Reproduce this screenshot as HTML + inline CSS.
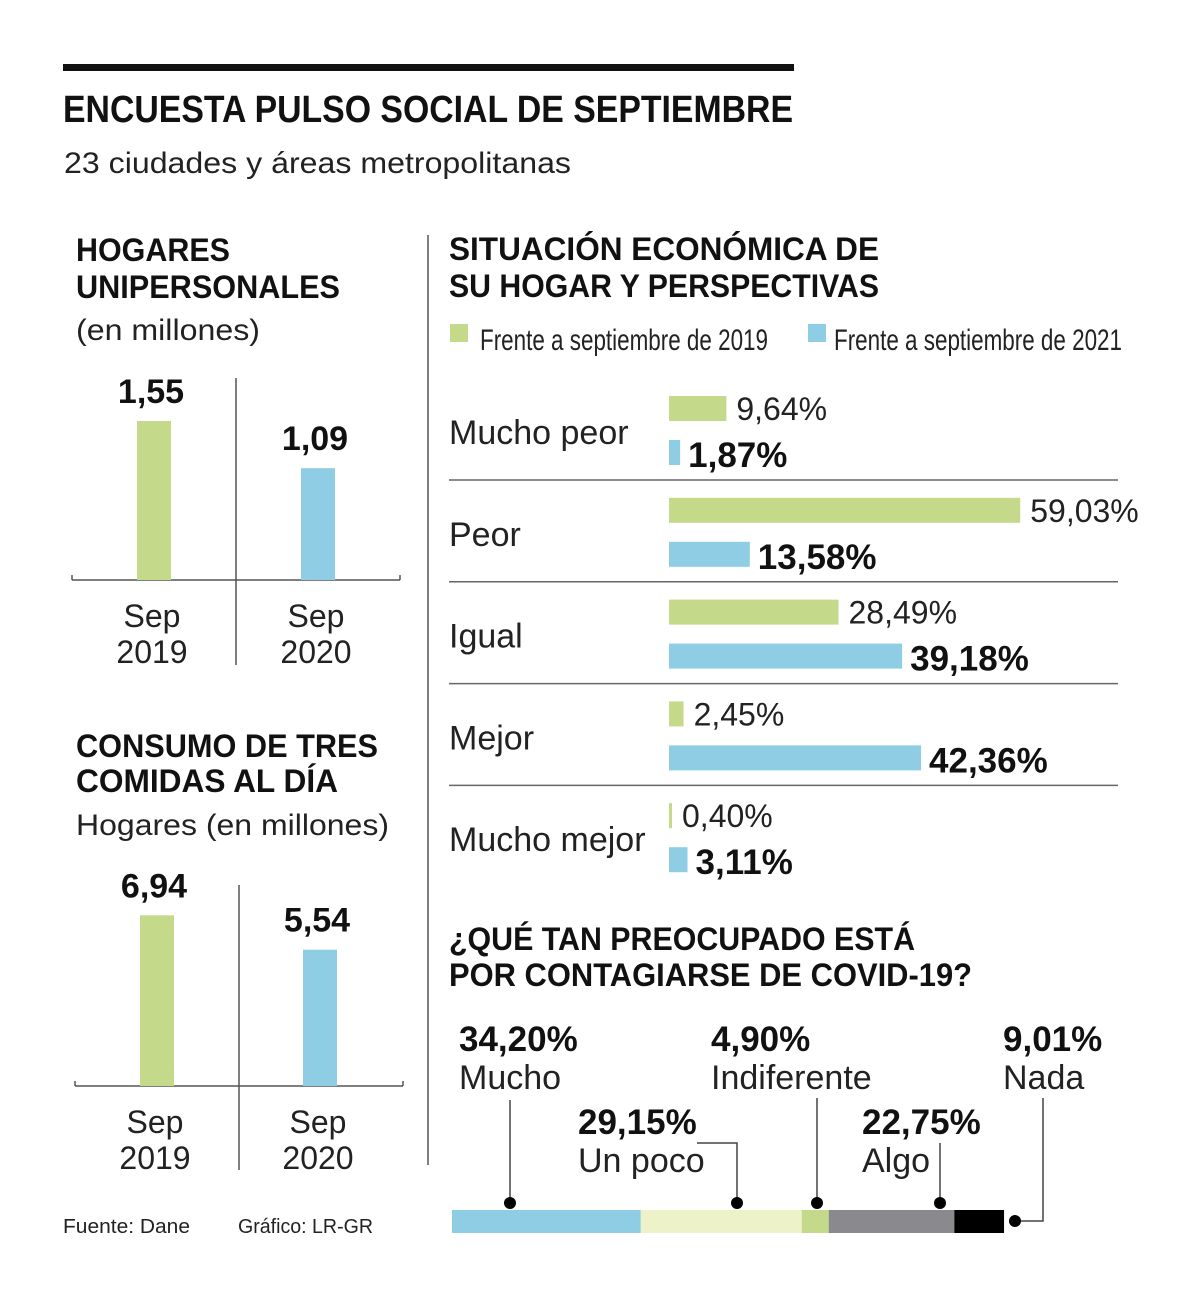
<!DOCTYPE html>
<html><head><meta charset="utf-8"><style>
html,body{margin:0;padding:0;background:#fff}
svg{display:block;font-family:"Liberation Sans",sans-serif}
.t{font-weight:bold;fill:#111}
.l{fill:#222}
</style></head><body>
<svg id="s" width="1200" height="1301" viewBox="0 0 1200 1301">
<rect x="63" y="64" width="731" height="7" fill="#111"/>
<text x="63" y="122" font-size="38" class="t" textLength="730" lengthAdjust="spacingAndGlyphs">ENCUESTA PULSO SOCIAL DE SEPTIEMBRE</text>
<text x="64" y="173" font-size="30" class="l" textLength="507" lengthAdjust="spacingAndGlyphs">23 ciudades y áreas metropolitanas</text>

<text x="76" y="261" font-size="32" class="t" textLength="154" lengthAdjust="spacingAndGlyphs">HOGARES</text>
<text x="76" y="298" font-size="32" class="t" textLength="264" lengthAdjust="spacingAndGlyphs">UNIPERSONALES</text>
<text x="76" y="340" font-size="30" class="l" textLength="184" lengthAdjust="spacingAndGlyphs">(en millones)</text>

<text x="76" y="757" font-size="32" class="t" textLength="302" lengthAdjust="spacingAndGlyphs">CONSUMO DE TRES</text>
<text x="76" y="792" font-size="32" class="t" textLength="262" lengthAdjust="spacingAndGlyphs">COMIDAS AL DÍA</text>
<text x="76" y="835" font-size="30" class="l" textLength="313" lengthAdjust="spacingAndGlyphs">Hogares (en millones)</text>

<text x="63" y="1233" font-size="20" class="l" textLength="127" lengthAdjust="spacingAndGlyphs">Fuente: Dane</text>
<text x="238" y="1233" font-size="20" class="l" textLength="135" lengthAdjust="spacingAndGlyphs">Gráfico: LR-GR</text>

<line x1="428" y1="235" x2="428" y2="1165" stroke="#555" stroke-width="1.5"/>

<text x="449" y="260" font-size="32" class="t" textLength="430" lengthAdjust="spacingAndGlyphs">SITUACIÓN ECONÓMICA DE</text>
<text x="449" y="297" font-size="32" class="t" textLength="430" lengthAdjust="spacingAndGlyphs">SU HOGAR Y PERSPECTIVAS</text>
<g>
<rect x="450" y="324" width="18" height="18" fill="#c5d98a"/>
<text x="480" y="350" font-size="30" class="l" textLength="288" lengthAdjust="spacingAndGlyphs">Frente a septiembre de 2019</text>
<rect x="808" y="324" width="18" height="18" fill="#8ecde4"/>
<text x="834" y="350" font-size="30" class="l" textLength="288" lengthAdjust="spacingAndGlyphs">Frente a septiembre de 2021</text>
</g>

<text x="449" y="950" font-size="32" class="t" textLength="466" lengthAdjust="spacingAndGlyphs">¿QUÉ TAN PREOCUPADO ESTÁ</text>
<text x="449" y="986" font-size="32" class="t" textLength="523" lengthAdjust="spacingAndGlyphs">POR CONTAGIARSE DE COVID-19?</text>
<g id="g"></g>
</svg>
<script>
// Column chart 1
const c1Cats = ["Sep 2019", "Sep 2020"];
const c1Vals = [1.55, 1.09];
const c1Labels = ["1,55", "1,09"];
// Column chart 2
const c2Cats = ["Sep 2019", "Sep 2020"];
const c2Vals = [6.94, 5.54];
const c2Labels = ["6,94", "5,54"];
// Horizontal bars
const hCats = ["Mucho peor", "Peor", "Igual", "Mejor", "Mucho mejor"];
const h2019 = [9.64, 59.03, 28.49, 2.45, 0.40];
const h2021 = [1.87, 13.58, 39.18, 42.36, 3.11];
const h2019Labels = ["9,64%", "59,03%", "28,49%", "2,45%", "0,40%"];
const h2021Labels = ["1,87%", "13,58%", "39,18%", "42,36%", "3,11%"];
// Stacked bar
const sCats = ["Mucho", "Un poco", "Indiferente", "Algo", "Nada"];
const sVals = [34.20, 29.15, 4.90, 22.75, 9.01];
const sLabels = ["34,20%", "29,15%", "4,90%", "22,75%", "9,01%"];

const NS = "http://www.w3.org/2000/svg";
const G = document.getElementById('g');
const GREEN = "#c5d98a", BLUE = "#8ecde4";
function el(tag, attrs, txt){const e=document.createElementNS(NS,tag);for(const k in attrs)e.setAttribute(k,attrs[k]);if(txt!==undefined)e.textContent=txt;G.appendChild(e);return e;}

function columnChart(cats, vals, labels, base, scale, xs, axisX1, axisX2, divX, divTop, divBot, prefix){
  const a=el('line',{x1:axisX1,y1:base,x2:axisX2,y2:base,stroke:"#555","stroke-width":1.5});
  
  
  const d=el('line',{x1:divX,y1:divTop,x2:divX,y2:divBot,stroke:"#555","stroke-width":1.5});
  
  
  el('line',{x1:axisX1,y1:base-5,x2:axisX1,y2:base,stroke:"#555","stroke-width":1.5});
  el('line',{x1:axisX2,y1:base-5,x2:axisX2,y2:base,stroke:"#555","stroke-width":1.5});
  vals.forEach((v,i)=>{
    const h=v*scale, x=xs[i];
    const r=el('rect',{x:x,y:base-h,width:34,height:h,fill:i===0?GREEN:BLUE});
    
    
    const t=el('text',{x:x+14,y:base-h-18,"font-size":34,"font-weight":"bold","text-anchor":"middle",fill:"#111"},labels[i]);
    
    
    const parts=cats[i].split(' ');
    const t1=el('text',{x:x+15,y:base+47,"font-size":32,"text-anchor":"middle",fill:"#222"},parts[0]);
    
    
    const t2=el('text',{x:x+15,y:base+83,"font-size":32,"text-anchor":"middle",fill:"#222"},parts[1]);
    
    
  });
}
columnChart(c1Cats,c1Vals,c1Labels,580,102.6,[137,301],72,400,236,378,665,'hogares');
columnChart(c2Cats,c2Vals,c2Labels,1086,24.6,[140,303],75,403,239,885,1170,'comidas');

// horizontal bars
const hx0=669, hs=5.95;
hCats.forEach((c,i)=>{
  const y0=396+i*101.8;
  const t=el('text',{x:449,y:y0+48,"font-size":34,fill:"#222"},c);
  
  
  const w1=Math.max(h2019[i]*hs,3), w2=Math.max(h2021[i]*hs,3);
  const r1=el('rect',{x:hx0,y:y0,width:w1,height:25,fill:GREEN});
  
  
  const r2=el('rect',{x:hx0,y:y0+44,width:w2,height:25,fill:BLUE});
  
  
  const v1=el('text',{x:hx0+w1+10,y:y0+24,"font-size":32,fill:"#222"},h2019Labels[i]);
  
  
  const v2=el('text',{x:hx0+w2+8,y:y0+71,"font-size":35,"font-weight":"bold",fill:"#111"},h2021Labels[i]);
  
  
  if(i<hCats.length-1){
    const s=el('line',{x1:449,y1:y0+84,x2:1118,y2:y0+84,stroke:"#666","stroke-width":1.5});
    
    
  }
});

// stacked bar
const sx0=452, ss=5.52, sy=1210, sh=23;
const sColors=["#8ecde4","#edf2c9","#c5d98a","#8a898d","#000"];
const lblPos=[[459,1051],[578,1134],[711,1051],[862,1134],[1003,1051]];
let acc=0;
sVals.forEach((v,i)=>{
  const x=sx0+acc*ss, w=v*ss; acc+=v;
  const r=el('rect',{x:x,y:sy,width:w,height:sh,fill:sColors[i]});
  
  
  const [lx,ly]=lblPos[i];
  const a=el('text',{x:lx,y:ly,"font-size":35,"font-weight":"bold",fill:"#111"},sLabels[i]);
  
  
  const b=el('text',{x:lx,y:ly+38,"font-size":34,fill:"#222"},sCats[i]);
  
  
});
// leaders
function dot(cx,cy,n){const d=el('circle',{cx:cx,cy:cy,r:6,fill:"#000"});}
function path(dd,n){const p=el('path',{d:dd,fill:"none",stroke:"#444","stroke-width":1.5});}
path("M510 1100 V1203","leader-mucho"); dot(510,1203,"dot-mucho");
path("M697 1143 H737 V1203","leader-un-poco"); dot(737,1203,"dot-un-poco");
path("M817 1098 V1203","leader-indiferente"); dot(817,1203,"dot-indiferente");
path("M940 1143 V1203","leader-algo"); dot(940,1203,"dot-algo");
path("M1015 1221 H1043 V1098","leader-nada"); dot(1015,1221,"dot-nada");
</script>
</body></html>
